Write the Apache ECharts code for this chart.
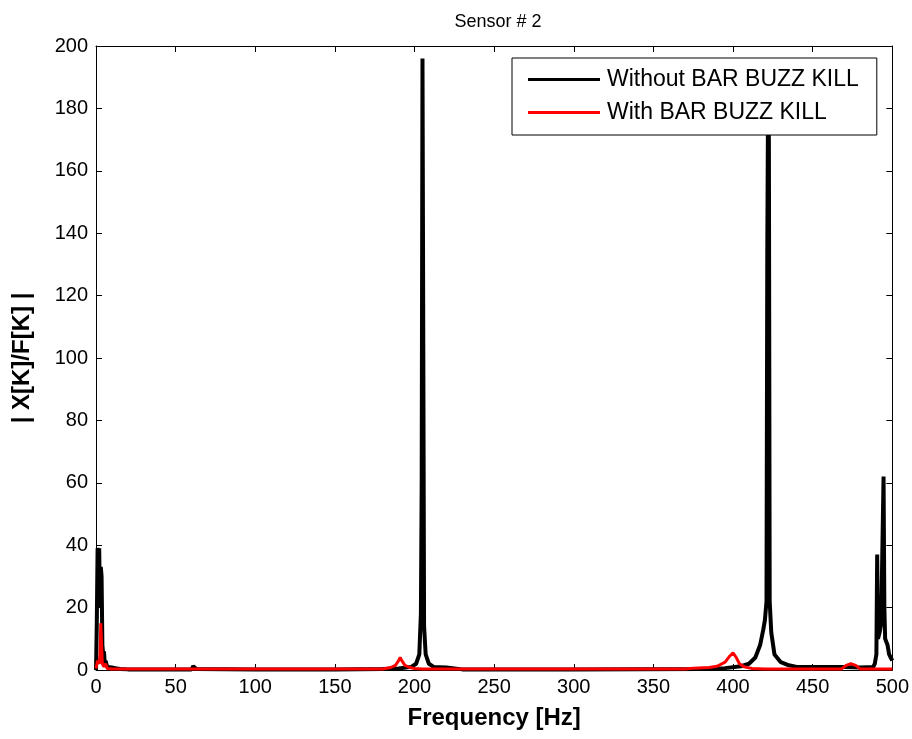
<!DOCTYPE html>
<html><head><meta charset="utf-8">
<script src="https://cdn.jsdelivr.net/npm/echarts@6/dist/echarts.min.js"></script>
<style>html,body{margin:0;padding:0;background:#fff}#c{width:912px;height:739px}</style>
</head><body><div id="c"></div>
<script>
var titleText = 'Sensor # 2';
var seriesNames = ['Without BAR BUZZ KILL', 'With BAR BUZZ KILL'];
var xTicks = [0, 50, 100, 150, 200, 250, 300, 350, 400, 450, 500];
var yTicks = [0, 20, 40, 60, 80, 100, 120, 140, 160, 180, 200];

var freqWithout = [0, 0.5, 1, 1.5, 2, 2.5, 3, 3.5, 4, 4.5, 5, 5.5, 6, 7, 8, 10, 12, 15, 20, 60, 61, 62, 63, 100, 150, 180, 190, 198, 201, 203, 204, 204.5, 205, 205.5, 206, 207, 209, 212, 220, 225, 230, 300, 380, 395, 405, 410, 414, 417, 419, 420, 421, 421.5, 422, 422.5, 423, 424, 426, 430, 435, 440, 470, 480, 488, 489, 490, 490.5, 491, 492, 493, 494.5, 495, 495.5, 496, 497, 498, 499, 500];
var magWithout  = [0, 15, 39, 38, 39, 20, 33, 30, 8, 5, 6, 2, 3, 1, 1.2, 0.8, 0.6, 0.3, 0.2, 0.2, 1.2, 1.5, 0.3, 0.2, 0.2, 0.3, 0.5, 1, 2, 5, 18, 60, 196, 196, 14, 5, 2, 1, 0.8, 0.5, 0.2, 0.2, 0.3, 0.6, 1.2, 2, 4, 8, 13, 16, 22, 135, 185, 170, 22, 12, 5, 2.5, 1.5, 1, 1, 0.8, 1, 2, 5, 37, 10, 12, 15, 62, 20, 10, 10, 8, 5, 4, 3];

var freqWith = [0, 1, 2, 2.5, 3, 3.5, 4, 5, 6, 7, 10, 180, 185, 188, 190, 191, 192, 194, 197, 200, 205, 370, 375, 385, 390, 395, 398, 400, 402, 404, 407, 412, 420, 468, 471, 474, 477, 480, 500];
var magWith  = [0.5, 3, 2, 5, 15, 8, 2, 1, 2, 0.5, 0.3, 0.3, 0.8, 1.5, 3, 4, 3, 1.5, 0.8, 0.5, 0.3, 0.3, 0.6, 0.8, 1.2, 2.5, 4.5, 5.5, 4, 2, 1, 0.5, 0.3, 0.3, 1.5, 2, 1.5, 0.3, 0.3];

function pairs(xs, ys) { return xs.map(function (x, i) { return [x, ys[i]]; }); }

var font = 'Liberation Sans, Arial, sans-serif';
var chart = echarts.init(document.getElementById('c'));
function axisCommon() {
  return {
    axisLine: { show: true, onZero: false, lineStyle: { color: '#000', width: 1 } },
    axisTick: { show: true, inside: true, length: 6, lineStyle: { color: '#000' } },
    splitLine: { show: false }
  };
}
chart.setOption({
  animation: false,
  backgroundColor: '#fff',
  title: { text: titleText, left: 493, top: 8, textAlign: 'center',
    textStyle: { fontFamily: font, fontSize: 18, fontWeight: 'normal', color: '#000' } },
  legend: {
    orient: 'vertical', left: 512, top: 58, z: 10,
    backgroundColor: '#fff', borderColor: '#000', borderWidth: 1, borderRadius: 0,
    padding: [10, 18, 11, 16], itemGap: 10, itemWidth: 72, itemHeight: 14,
    icon: 'path://M0,5.5 L72,5.5 L72,8.5 L0,8.5 Z',
    textStyle: { fontFamily: font, fontSize: 23, lineHeight: 23, color: '#000', padding: [0, 0, 0, 2] },
    data: [
      { name: seriesNames[0], itemStyle: { color: '#000' } },
      { name: seriesNames[1], itemStyle: { color: '#ff0000' } }
    ]
  },
  grid: { left: 96, right: 18, top: 46, bottom: 69, containLabel: false },
  xAxis: [
    Object.assign({ type: 'value', min: xTicks[0], max: xTicks[xTicks.length - 1], interval: 50,
      position: 'bottom', name: 'Frequency [Hz]', nameLocation: 'middle', nameGap: 36,
      nameTextStyle: { fontFamily: font, fontSize: 24, fontWeight: 'bold', color: '#000' },
      axisLabel: { fontFamily: font, fontSize: 20, color: '#000', margin: 7 } }, axisCommon()),
    Object.assign({ type: 'value', min: 0, max: 500, interval: 50, position: 'top',
      axisLabel: { show: false } }, axisCommon())
  ],
  yAxis: [
    Object.assign({ type: 'value', min: yTicks[0], max: yTicks[yTicks.length - 1], interval: 20,
      position: 'left', name: '| X[K]/F[K] |', nameLocation: 'middle', nameGap: 62,
      nameTextStyle: { fontFamily: font, fontSize: 24, fontWeight: 'bold', color: '#000' },
      axisLabel: { fontFamily: font, fontSize: 20, color: '#000', margin: 8 } }, axisCommon()),
    Object.assign({ type: 'value', min: 0, max: 200, interval: 20, position: 'right',
      axisLabel: { show: false } }, axisCommon())
  ],
  series: [
    { name: seriesNames[0], type: 'line', showSymbol: false, clip: true,
      lineStyle: { color: '#000', width: 4 }, itemStyle: { color: '#000' },
      data: pairs(freqWithout, magWithout) },
    { name: seriesNames[1], type: 'line', showSymbol: false, clip: true,
      lineStyle: { color: '#ff0000', width: 3 }, itemStyle: { color: '#ff0000' },
      data: pairs(freqWith, magWith) }
  ]
});
</script></body></html>
